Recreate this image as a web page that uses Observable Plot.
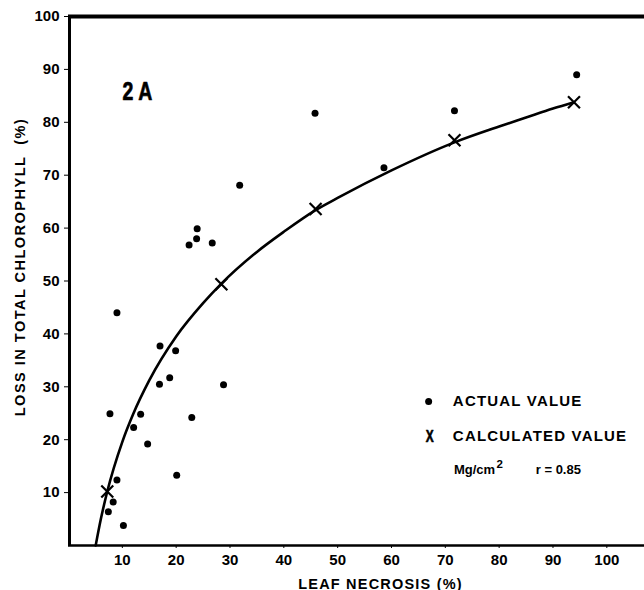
<!DOCTYPE html>
<html><head><meta charset="utf-8">
<script src="https://cdn.jsdelivr.net/npm/d3@7"></script>
<script src="https://cdn.jsdelivr.net/npm/@observablehq/plot@0.6"></script>
<style>body{margin:0;background:#fff}</style>
</head><body><div id="chart"></div>
<script>
// Actual values (dots)
const actualX = [31.8, 23.9, 23.8, 22.4, 26.7, 9.0, 17.0, 19.9, 18.8, 16.9, 28.8, 7.7, 13.4, 12.1, 22.9, 14.7, 20.1, 9.0, 8.3, 7.4, 10.2, 45.8, 71.7, 94.4, 58.6];
const actualY = [68.1, 59.9, 58.0, 56.8, 57.2, 44.0, 37.7, 36.8, 31.7, 30.5, 30.4, 24.9, 24.8, 22.3, 24.2, 19.2, 13.3, 12.4, 8.2, 6.4, 3.8, 81.7, 82.2, 89.0, 71.4];
// Calculated values (crosses)
const calcX = [7.2, 28.4, 45.9, 71.7, 93.9];
const calcY = [10.2, 49.4, 63.6, 76.6, 83.8];
// Fitted curve
const curveX = [5.05, 6, 7.2, 10, 12, 15, 20, 25, 28.4, 35, 40, 45.9, 50, 60, 71.7, 80, 85, 90, 93.9];
const curveY = [0, 4.95, 10.2, 19.6, 24.8, 31.2, 39.5, 45.8, 49.5, 55.5, 59.3, 63.4, 65.7, 70.9, 76.2, 79.2, 80.9, 82.6, 83.8];
// Tick labels
const xTicks = [10, 20, 30, 40, 50, 60, 70, 80, 90, 100];
const yTicks = [10, 20, 30, 40, 50, 60, 70, 80, 90, 100];
// Texts
const panelLabel = "2 A";
const xTitle = "LEAF NECROSIS (%)";
const yTitle = "LOSS IN TOTAL CHLOROPHYLL  (%)";
const legendLabels = ["ACTUAL VALUE", "CALCULATED VALUE"];

const actual = actualX.map((x, i) => ({x, y: actualY[i]}));
const calc = calcX.map((x, i) => ({x, y: calcY[i]}));
const curve = curveX.map((x, i) => ({x, y: curveY[i]}));

const FONT = "'Liberation Sans', Arial, Helvetica, sans-serif";

const chart = Plot.plot({
  width: 644,
  height: 590,
  marginLeft: 68,
  marginRight: 0,
  marginTop: 16,
  marginBottom: 45,
  style: {fontFamily: FONT, fontWeight: "bold", fontSize: "15px", color: "#000", background: "#fff"},
  x: {domain: [0, 107]},
  y: {domain: [0, 100]},
  marks: [
    Plot.axisX({ticks: xTicks, tickSize: 3, tickPadding: 6, label: null, tickFormat: d => d}),
    Plot.axisY({ticks: yTicks, tickSize: 4, tickPadding: 5, label: null, tickFormat: d => d}),
    Plot.ruleY([100], {stroke: "#000", strokeWidth: 4}),
    Plot.ruleX([0], {y1: 0, y2: 100, stroke: "#000", strokeWidth: 3, dx: 1}),
    Plot.ruleY([0], {stroke: "#000", strokeWidth: 2.5}),
    Plot.line(curve, {x: "x", y: "y", curve: "monotone-x", stroke: "#000", strokeWidth: 2.6}),
    Plot.dot(actual, {x: "x", y: "y", r: 3.5, fill: "#000", stroke: "none"}),
    Plot.dot(calc, {x: "x", y: "y", symbol: "times", r: 5.5, stroke: "#000", strokeWidth: 2.2}),
    // panel label
    Plot.text([panelLabel], {x: 12.8, y: 85.8, fontSize: 26, fill: "#000", stroke: "#000", strokeWidth: 0.7, rotate: 0.001}),
    // axis titles
    Plot.text([xTitle], {frameAnchor: "bottom", textAnchor: "middle", dx: 24, dy: 43, fontSize: 14.5, fill: "#000"}),
    Plot.text([yTitle], {frameAnchor: "left", textAnchor: "middle", rotate: -90, dx: -48, dy: -14, fontSize: 14.5, fill: "#000"}),
    // legend
    Plot.dot([0], {x: 66.9, y: 27.2, r: 3.5, fill: "#000", stroke: "none"}),
    Plot.text([legendLabels[0]], {x: 71.4, y: 27.2, textAnchor: "start", fontSize: 15, fill: "#000"}),
    Plot.text(["X"], {x: 67.1, y: 20.6, fontSize: 17, fill: "#000", stroke: "#000", strokeWidth: 0.6, rotate: 0.001}),
    Plot.text([legendLabels[1]], {x: 71.4, y: 20.6, textAnchor: "start", fontSize: 15, fill: "#000"}),
    Plot.text(["Mg/cm"], {x: 71.6, y: 14.3, textAnchor: "start", fontSize: 13, fill: "#000"}),
    Plot.text(["2"], {x: 79.5, y: 14.3, dy: -6, textAnchor: "start", fontSize: 11.5, fill: "#000"}),
    Plot.text(["r = 0.85"], {x: 86.8, y: 14.3, textAnchor: "start", fontSize: 13, fill: "#000"})
  ]
});

const svg = d3.select(chart);
svg.selectAll("text")
  .filter(function() { return /[A-Z]{3}/.test(this.textContent); })
  .attr("letter-spacing", function() { return this.textContent === yTitle ? "1.5px" : "1.2px"; });
// condensed look for the panel label and the cross glyph of the legend
svg.selectAll("text")
  .filter(function() { return this.textContent === panelLabel || this.textContent === "X"; })
  .each(function() {
    const t = this.getAttribute("transform") || "";
    const s = this.textContent === "X" ? "scale(0.7,1)" : "scale(0.75,1)";
    this.setAttribute("transform", t.replace(/rotate\([^)]*\)/, "") + " " + s);
  });

document.getElementById("chart").appendChild(chart);
</script>
</body></html>
